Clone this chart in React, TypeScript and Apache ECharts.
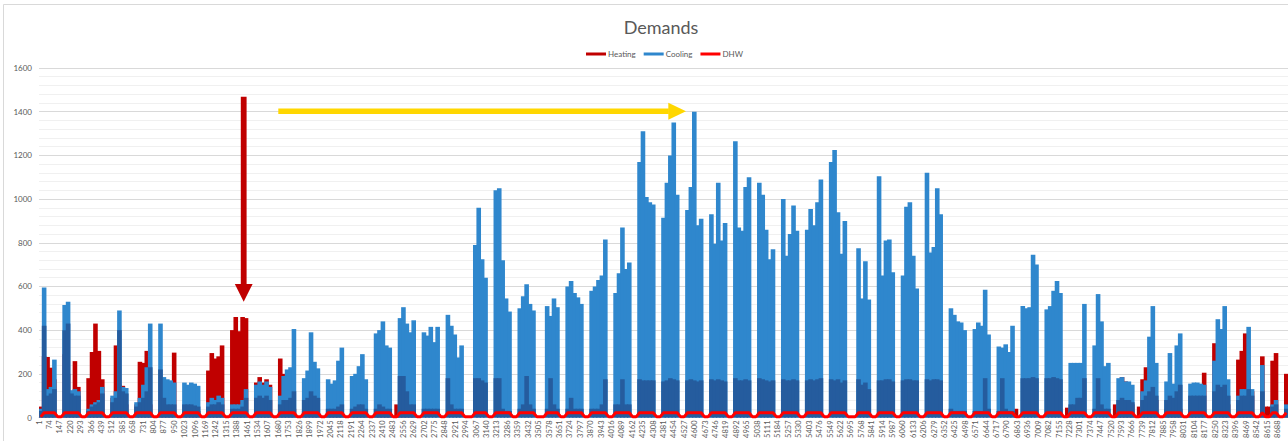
import React, { useEffect, useRef } from "react";
import * as echarts from "echarts";

// ---- Tick labels / categories ----
const dayCategories: string[] = Array.from({ length: 365 }, (_, i) => `Day ${i + 1}`);
const legendNames = ["Heating", "Cooling", "DHW"];

// ---- Daily values (Mon..Sun per row) ----
const coolingPeak: number[] = [
  40, 595, 130, 140, 265, 0, 0,
  515, 530, 125, 130, 120, 0, 0,
  40, 60, 70, 80, 140, 0, 0,
  100, 120, 490, 140, 135, 0, 0,
  70, 90, 150, 230, 430, 0, 0,
  430, 185, 175, 170, 160, 0, 0,
  160, 150, 160, 155, 145, 0, 0,
  70, 90, 80, 100, 90, 0, 0,
  60, 60, 60, 80, 130, 0, 0,
  150, 165, 150, 165, 140, 0, 0,
  100, 190, 220, 230, 405, 0, 0,
  180, 215, 390, 255, 225, 0, 0,
  175, 155, 170, 260, 320, 0, 0,
  190, 200, 235, 290, 175, 0, 0,
  385, 400, 440, 330, 320, 0, 0,
  455, 505, 430, 390, 445, 0, 0,
  390, 375, 415, 345, 415, 0, 0,
  470, 420, 380, 275, 330, 0, 0,
  0, 790, 960, 725, 640, 0, 0,
  1040, 1050, 720, 545, 485, 0, 0,
  500, 555, 610, 520, 490, 0, 0,
  0, 510, 465, 545, 505, 0, 0,
  600, 625, 570, 550, 520, 0, 0,
  580, 600, 630, 650, 815, 0, 0,
  570, 660, 870, 680, 710, 0, 0,
  1170, 1310, 1010, 985, 975, 0, 0,
  915, 1075, 1200, 1350, 1020, 0, 0,
  950, 1055, 1400, 880, 910, 0, 0,
  930, 795, 1075, 810, 890, 0, 0,
  1265, 870, 855, 1055, 1100, 0, 0,
  1075, 1020, 860, 725, 770, 0, 0,
  1000, 740, 840, 970, 855, 0, 0,
  860, 955, 880, 985, 1090, 0, 0,
  1170, 1225, 940, 750, 900, 0, 0,
  0, 775, 545, 715, 540, 0, 0,
  1105, 650, 810, 815, 665, 0, 0,
  650, 965, 985, 740, 590, 0, 0,
  1120, 755, 780, 1050, 930, 0, 0,
  500, 470, 440, 435, 400, 0, 0,
  405, 435, 420, 585, 380, 0, 0,
  325, 320, 335, 300, 420, 0, 0,
  510, 500, 505, 745, 700, 0, 0,
  495, 510, 580, 625, 570, 0, 0,
  250, 250, 250, 250, 520, 0, 0,
  330, 565, 440, 235, 250, 0, 0,
  180, 185, 165, 165, 150, 0, 0,
  120, 170, 370, 510, 250, 0, 0,
  165, 295, 155, 330, 385, 0, 0,
  155, 160, 160, 155, 150, 0, 0,
  260, 450, 405, 510, 175, 0, 0,
  100, 130, 130, 415, 130, 0, 0,
  240, 0, 0, 60, 80, 0, 0,
  60,
];

// dense lower band of the cooling trace
const coolingBase: number[] = [
  30, 420, 100, 110, 130, 0, 0,
  400, 430, 110, 100, 100, 0, 0,
  30, 50, 60, 70, 110, 0, 0,
  70, 90, 400, 120, 110, 0, 0,
  50, 70, 90, 120, 230, 0, 0,
  220, 90, 60, 60, 60, 0, 0,
  60, 60, 60, 55, 50, 0, 0,
  50, 60, 60, 70, 60, 0, 0,
  40, 40, 40, 50, 90, 0, 0,
  90, 100, 90, 100, 80, 0, 0,
  60, 80, 80, 90, 120, 0, 0,
  80, 90, 120, 100, 90, 0, 0,
  40, 40, 40, 50, 60, 0, 0,
  40, 50, 60, 60, 40, 0, 0,
  40, 60, 50, 40, 40, 0, 0,
  190, 190, 120, 60, 60, 0, 0,
  40, 40, 40, 40, 40, 0, 0,
  180, 60, 40, 40, 40, 0, 0,
  0, 180, 180, 170, 160, 0, 0,
  180, 180, 40, 30, 30, 0, 0,
  40, 60, 190, 60, 40, 0, 0,
  0, 40, 180, 60, 40, 0, 0,
  40, 90, 40, 40, 40, 0, 0,
  40, 40, 40, 60, 175, 0, 0,
  60, 60, 175, 60, 60, 0, 0,
  175, 170, 170, 170, 170, 0, 0,
  165, 170, 180, 175, 170, 0, 0,
  170, 175, 170, 165, 170, 0, 0,
  175, 170, 175, 170, 165, 0, 0,
  180, 170, 170, 175, 170, 0, 0,
  180, 175, 170, 165, 170, 0, 0,
  175, 170, 170, 175, 170, 0, 0,
  170, 175, 170, 175, 180, 0, 0,
  175, 170, 175, 160, 170, 0, 0,
  0, 175, 150, 160, 130, 0, 0,
  170, 170, 175, 175, 165, 0, 0,
  170, 175, 175, 170, 170, 0, 0,
  175, 170, 175, 175, 170, 0, 0,
  40, 30, 30, 30, 30, 0, 0,
  30, 30, 30, 180, 40, 0, 0,
  30, 180, 40, 30, 30, 0, 0,
  180, 180, 180, 185, 180, 0, 0,
  180, 180, 185, 180, 175, 0, 0,
  60, 60, 90, 90, 180, 0, 0,
  40, 180, 60, 40, 40, 0, 0,
  80, 90, 80, 80, 70, 0, 0,
  80, 100, 120, 140, 100, 0, 0,
  80, 100, 90, 120, 150, 0, 0,
  100, 100, 100, 100, 100, 0, 0,
  120, 150, 140, 150, 100, 0, 0,
  80, 100, 100, 130, 100, 0, 0,
  120, 0, 0, 50, 60, 0, 0,
  40,
];

const heating: number[] = [
  50, 280, 277, 228, 175, 0, 0,
  290, 200, 120, 258, 140, 0, 0,
  180, 300, 430, 305, 175, 0, 0,
  90, 330, 150, 145, 60, 0, 0,
  60, 255, 250, 305, 60, 0, 0,
  40, 30, 30, 40, 297, 0, 0,
  30, 30, 30, 30, 30, 0, 0,
  215, 295, 270, 280, 330, 0, 0,
  400, 460, 395, 460, 455, 0, 0,
  160, 185, 160, 175, 150, 0, 0,
  270, 200, 60, 50, 40, 0, 0,
  30, 20, 20, 20, 20, 0, 0,
  20, 15, 15, 15, 15, 0, 0,
  15, 15, 15, 15, 15, 0, 0,
  15, 15, 15, 15, 15, 0, 60,
  40, 15, 15, 15, 15, 0, 0,
  0, 0, 0, 0, 0, 0, 0,
  0, 0, 0, 0, 0, 0, 0,
  0, 0, 0, 0, 0, 0, 0,
  0, 0, 0, 0, 0, 0, 0,
  0, 0, 0, 0, 0, 0, 0,
  0, 0, 0, 0, 0, 0, 0,
  0, 0, 0, 0, 0, 0, 0,
  0, 0, 0, 0, 0, 0, 0,
  0, 0, 0, 0, 0, 0, 0,
  0, 0, 0, 0, 0, 0, 0,
  0, 0, 0, 0, 0, 0, 0,
  0, 0, 0, 0, 0, 0, 0,
  0, 0, 0, 0, 0, 0, 0,
  0, 0, 0, 0, 0, 0, 0,
  0, 0, 0, 0, 0, 0, 0,
  0, 0, 0, 0, 0, 0, 0,
  0, 0, 0, 0, 0, 0, 0,
  0, 0, 0, 0, 0, 0, 0,
  0, 0, 0, 0, 0, 0, 0,
  0, 0, 0, 0, 0, 0, 0,
  0, 0, 0, 0, 0, 0, 0,
  0, 0, 0, 0, 0, 0, 0,
  0, 0, 0, 0, 0, 0, 0,
  0, 0, 0, 0, 0, 0, 0,
  0, 0, 0, 0, 0, 40, 0,
  0, 0, 0, 0, 0, 0, 0,
  0, 0, 0, 0, 0, 0, 45,
  0, 0, 0, 0, 0, 0, 0,
  0, 0, 0, 0, 0, 0, 60,
  60, 185, 165, 130, 60, 0, 50,
  175, 230, 225, 100, 80, 0, 0,
  40, 40, 40, 40, 40, 0, 0,
  30, 30, 30, 40, 205, 0, 0,
  340, 200, 120, 100, 60, 0, 0,
  265, 305, 385, 180, 120, 0, 0,
  280, 50, 50, 260, 295, 0, 0,
  200,
];

const dhw: number[] = [
  3, 22, 22, 22, 22, 3, 3,
  22, 22, 22, 22, 22, 3, 3,
  22, 22, 22, 22, 22, 3, 3,
  22, 22, 22, 22, 22, 3, 3,
  22, 22, 22, 22, 22, 3, 3,
  22, 22, 22, 22, 22, 3, 3,
  22, 22, 22, 22, 22, 3, 3,
  22, 22, 22, 22, 22, 3, 3,
  22, 22, 22, 22, 22, 3, 3,
  22, 22, 22, 22, 22, 3, 3,
  22, 22, 22, 22, 22, 3, 3,
  22, 22, 22, 22, 22, 3, 3,
  22, 22, 22, 22, 22, 3, 3,
  22, 22, 22, 22, 22, 3, 3,
  22, 22, 22, 22, 22, 3, 3,
  22, 22, 22, 22, 22, 3, 3,
  22, 22, 22, 22, 22, 3, 3,
  22, 22, 22, 22, 22, 3, 3,
  3, 22, 22, 22, 22, 3, 3,
  22, 22, 22, 22, 22, 3, 3,
  22, 22, 22, 22, 22, 3, 3,
  3, 22, 22, 22, 22, 3, 3,
  22, 22, 22, 22, 22, 3, 3,
  22, 22, 22, 22, 22, 3, 3,
  22, 22, 22, 22, 22, 3, 3,
  22, 22, 22, 22, 22, 3, 3,
  22, 22, 22, 22, 22, 3, 3,
  22, 22, 22, 22, 22, 3, 3,
  22, 22, 22, 22, 22, 3, 3,
  22, 22, 22, 22, 22, 3, 3,
  22, 22, 22, 22, 22, 3, 3,
  22, 22, 22, 22, 22, 3, 3,
  22, 22, 22, 22, 22, 3, 3,
  22, 22, 22, 22, 22, 3, 3,
  3, 22, 22, 22, 22, 3, 3,
  22, 22, 22, 22, 22, 3, 3,
  22, 22, 22, 22, 22, 3, 3,
  22, 22, 22, 22, 22, 3, 3,
  22, 22, 22, 22, 22, 3, 3,
  22, 22, 22, 22, 22, 3, 3,
  22, 22, 22, 22, 22, 3, 3,
  22, 22, 22, 22, 22, 3, 3,
  22, 22, 22, 22, 22, 3, 3,
  22, 22, 22, 22, 22, 3, 3,
  22, 22, 22, 22, 22, 3, 3,
  22, 22, 22, 22, 22, 3, 3,
  22, 22, 22, 22, 22, 3, 3,
  22, 22, 22, 22, 22, 3, 3,
  22, 22, 22, 22, 22, 3, 3,
  22, 22, 22, 22, 22, 3, 3,
  22, 22, 22, 22, 22, 3, 3,
  22, 3, 3, 22, 22, 3, 3,
  22,
];

const FONT = "Lato";
const GREY = "#595959";

export default function App() {
  const ref = useRef<HTMLDivElement>(null);

  useEffect(() => {
    if (!ref.current) return;
    const chart = echarts.init(ref.current, null, { renderer: "svg" });
    const barW = 4.6;
    chart.setOption({
      animation: false,
      backgroundColor: "#ffffff",
      textStyle: { fontFamily: FONT },
      title: {
        text: "Demands",
        left: 656,
        top: 13,
        textAlign: "center",
        textStyle: { fontFamily: FONT, fontSize: 18, fontWeight: "normal", color: GREY },
      },
      legend: {
        data: legendNames,
        left: 581,
        top: 45,
        icon: "rect",
        itemWidth: 20,
        itemHeight: 3,
        itemGap: 8,
        textStyle: { fontFamily: FONT, fontSize: 8, color: GREY, padding: [0, 0, 0, -3] },
      },
      grid: { left: 39, top: 68, width: 1253, height: 349.5, containLabel: false },
      xAxis: [
        {
          type: "value",
          min: 0,
          max: 8760,
          interval: 73,
          axisLine: { show: true, lineStyle: { color: "#D9D9D9", width: 1 } },
          axisTick: { show: false },
          splitLine: { show: false },
          axisLabel: {
            rotate: 90,
            margin: 3,
            fontSize: 7.5,
            color: GREY,
            fontFamily: FONT,
            showMaxLabel: false,
            hideOverlap: false,
            formatter: (v: number) => String(Math.round(v) + 1),
          },
        },
        {
          type: "category",
          data: dayCategories,
          boundaryGap: true,
          show: false,
        },
      ],
      yAxis: {
        type: "value",
        min: 0,
        max: 1600,
        interval: 200,
        axisLine: { show: false },
        axisTick: { show: false },
        axisLabel: {
          fontSize: 8,
          color: GREY,
          margin: 7,
          fontFamily: FONT,
          formatter: (v: number) => String(Math.round(v)),
        },
        splitLine: { lineStyle: { color: "#D9D9D9", width: 1 } },
        minorTick: { show: false, splitNumber: 5 },
        minorSplitLine: { show: true, lineStyle: { color: "#F0F0F0", width: 1 } },
      },
      series: [
        {
          name: "Heating",
          type: "bar",
          xAxisIndex: 1,
          data: heating,
          barWidth: barW,
          barGap: "-100%",
          itemStyle: { color: "#C00000" },
          emphasis: { disabled: true },
        },
        {
          name: "Cooling",
          type: "bar",
          xAxisIndex: 1,
          data: coolingPeak,
          barWidth: barW,
          barGap: "-100%",
          itemStyle: { color: "#2F87CD" },
          emphasis: { disabled: true },
        },
        {
          name: "Cooling base",
          type: "bar",
          xAxisIndex: 1,
          data: coolingBase,
          barWidth: barW,
          barGap: "-100%",
          itemStyle: { color: "#255C9E" },
          emphasis: { disabled: true },
        },
        {
          name: "DHW",
          type: "line",
          xAxisIndex: 1,
          data: dhw,
          symbol: "none",
          itemStyle: { color: "#FF0000" },
          lineStyle: { color: "#FF0000", width: 3 },
          emphasis: { disabled: true },
        },
      ],
      graphic: [
        {
          type: "rect",
          silent: true,
          z: -10,
          shape: { x: 3.5, y: 4.5, width: 1400, height: 500 },
          style: { fill: "none", stroke: "#D9D9D9", lineWidth: 1 },
        },
        {
          type: "rect",
          z: 100,
          shape: { x: 240.8, y: 96.7, width: 5.8, height: 188 },
          style: { fill: "#C00000" },
        },
        {
          type: "polygon",
          z: 100,
          shape: { points: [[234.8, 284], [252.6, 284], [243.7, 301.7]] },
          style: { fill: "#C00000" },
        },
        {
          type: "rect",
          z: 100,
          shape: { x: 278.3, y: 108.4, width: 390.5, height: 5.6 },
          style: { fill: "#FFD700" },
        },
        {
          type: "polygon",
          z: 100,
          shape: { points: [[668.3, 102.7], [686, 111.2], [668.3, 119.7]] },
          style: { fill: "#FFD700" },
        },
      ],
    });
    return () => chart.dispose();
  }, []);

  return (
    <div
      ref={ref}
      style={{ position: "fixed", left: 0, top: 0, width: 1288, height: 441, background: "#fff" }}
    />
  );
}
